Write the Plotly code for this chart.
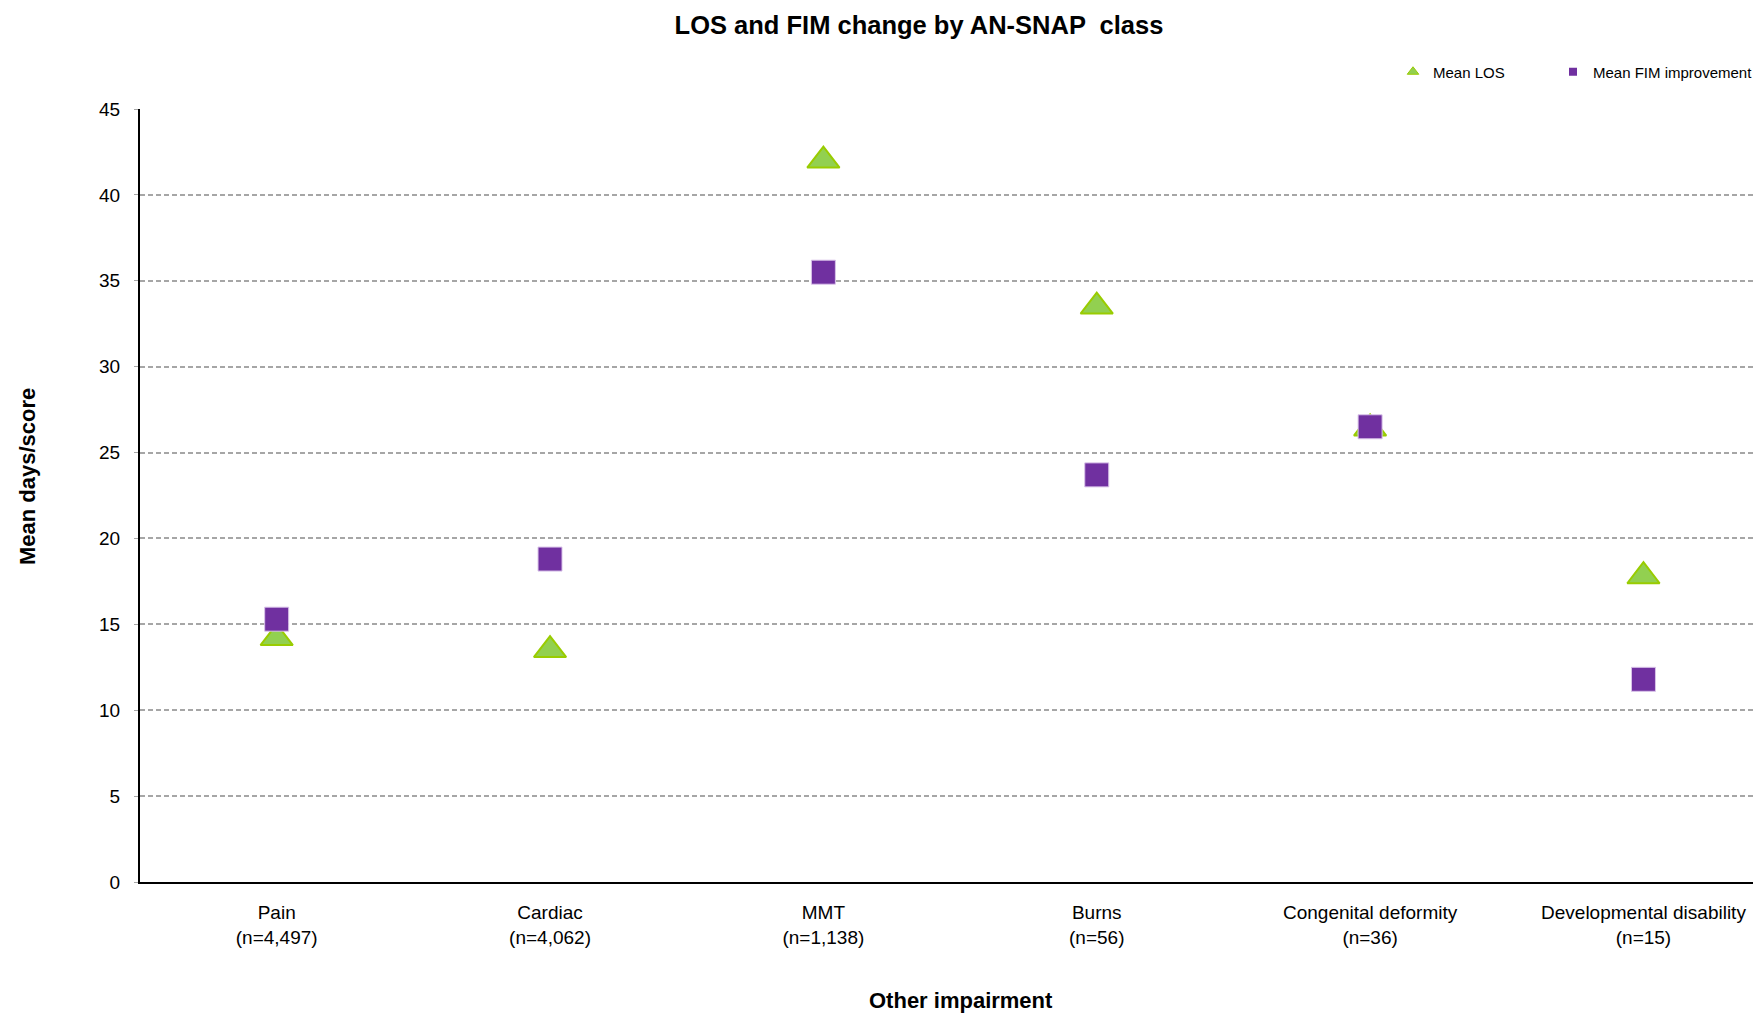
import plotly.graph_objects as go

categories = ["Pain", "Cardiac", "MMT", "Burns", "Congenital deformity", "Developmental disability"]
n_counts = ["4,497", "4,062", "1,138", "56", "36", "15"]
mean_los = [14.2, 13.5, 42.0, 33.5, 26.4, 17.8]
mean_fim = [15.3, 18.8, 35.5, 23.7, 26.5, 11.8]
y_ticks = [0, 5, 10, 15, 20, 25, 30, 35, 40, 45]

labels = [f"{c}<br>(n={n})" for c, n in zip(categories, n_counts)]

REG = "Liberation Sans, Arial, sans-serif"

LOS_FILL, LOS_LINE = "#92D050", "#99CC00"
FIM_FILL, FIM_LINE = "#7030A0", "#D9C3E9"

# page has an 8px body margin -> figure is 8px smaller than the window
W, H = 1753, 1007
L, R, T, B = 132, 0, 101, 133
PW, PH = W - L - R, H - T - B


def px_x(x):
    return (x - L) / PW


def px_y(y):
    return (H - B - y) / PH


fig = go.Figure()
fig.add_trace(go.Scatter(
    x=labels, y=mean_los, mode="markers", name="Mean LOS", showlegend=False,
    marker=dict(symbol="triangle-up", size=28, color=LOS_FILL, line=dict(color=LOS_LINE, width=2)),
))
fig.add_trace(go.Scatter(
    x=labels, y=mean_fim, mode="markers", name="Mean FIM improvement", showlegend=False,
    marker=dict(symbol="square", size=24, color=FIM_FILL, line=dict(color=FIM_LINE, width=1)),
))
# legend entries
fig.add_trace(go.Scatter(
    x=[None], y=[None], mode="markers", name="Mean LOS", legend="legend",
    marker=dict(symbol="triangle-up", size=10, color=LOS_FILL, line=dict(color=LOS_LINE, width=1)),
))
fig.add_trace(go.Scatter(
    x=[None], y=[None], mode="markers", name="Mean FIM improvement", legend="legend2",
    marker=dict(symbol="square", size=8, color=FIM_FILL, line=dict(width=0)),
))

leg_common = dict(orientation="h", xanchor="left", yanchor="middle",
                  font=dict(family=REG, size=15, color="black"),
                  bgcolor="rgba(0,0,0,0)", itemsizing="trace")

fig.update_layout(
    width=W, height=H,
    margin=dict(l=L, r=R, t=T, b=B, autoexpand=False),
    paper_bgcolor="white", plot_bgcolor="white",
    title=dict(text="<b>LOS and FIM change by AN-SNAP  class</b>", x=911 / W, xanchor="center",
               y=1 - 17 / H, yanchor="middle",
               font=dict(family=REG, size=25.5, color="black")),
    showlegend=True,
    legend=dict(x=px_x(1385), y=px_y(64), **leg_common),
    legend2=dict(x=px_x(1545), y=px_y(64), **leg_common),
    xaxis=dict(
        type="category", range=[-0.5, 5.43],
        showline=True, linecolor="black", linewidth=2,
        showgrid=False, ticks="", zeroline=False,
        ticklabelstandoff=12,
        tickfont=dict(family=REG, size=19, color="black"),
    ),
    yaxis=dict(
        range=[0, 45], tickvals=y_ticks, ticktext=[str(v) for v in y_ticks],
        showline=True, linecolor="black", linewidth=2,
        showgrid=True, gridcolor="#A6A6A6", gridwidth=1.5, griddash="5px,3px",
        zeroline=False, ticks="outside", ticklen=4, tickcolor="#A6A6A6",
        ticklabelstandoff=10,
        tickfont=dict(family=REG, size=19, color="black"),
    ),
    annotations=[
        dict(text="<b>Mean days/score</b>", xref="paper", yref="paper",
             x=px_x(19), y=px_y(469),
             xanchor="center", yanchor="middle", textangle=-90, showarrow=False,
             font=dict(family=REG, size=22, color="black")),
        dict(text="<b>Other impairment</b>", xref="paper", yref="paper",
             x=px_x(953), y=px_y(992),
             xanchor="center", yanchor="middle", showarrow=False,
             font=dict(family=REG, size=22, color="black")),
    ],
)

fig.write_html("out.html")
